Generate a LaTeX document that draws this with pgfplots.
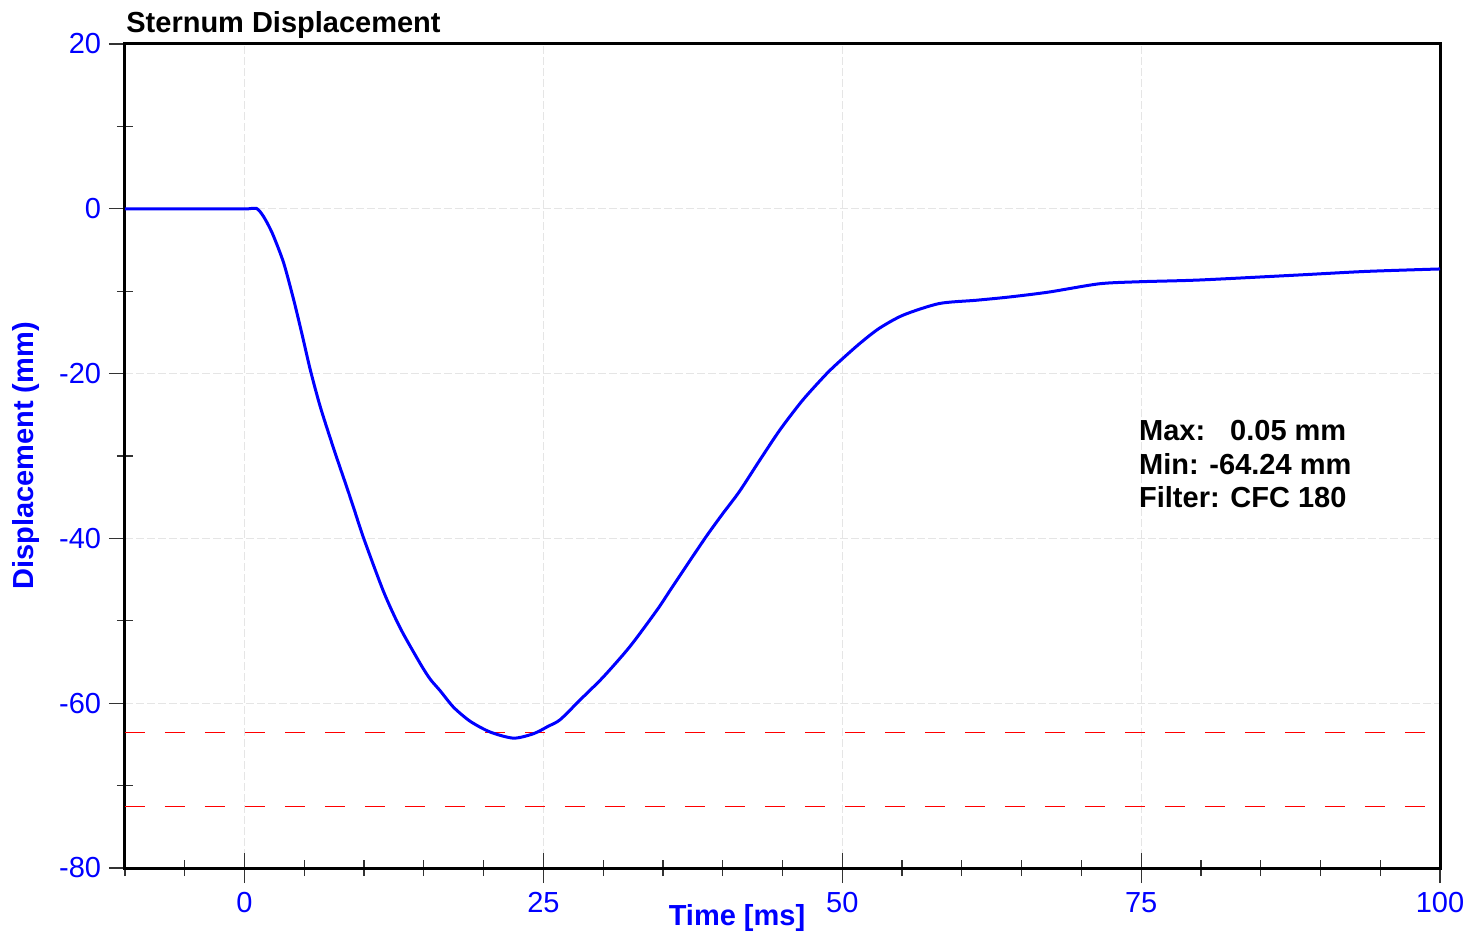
\documentclass[border=0pt]{standalone}
\usepackage{pgfplots}
\pgfplotsset{compat=1.18}
\usepackage{fontspec}
\setmainfont{Liberation Sans}
\definecolor{pblue}{RGB}{0,0,255}
\definecolor{pred}{RGB}{255,0,0}
\begin{document}
\begin{tikzpicture}
\begin{axis}[
  name=ax,
  scale only axis,
  width=657.5pt, height=412pt,
  xmin=-10, xmax=100, ymin=-80, ymax=20,
  axis line style={line width=1.5pt, black},
  xtick={0,25,50,75,100},
  minor xtick={-10,-5,5,10,15,20,30,35,40,45,55,60,65,70,80,85,90,95},
  ytick={-80,-60,-40,-20,0,20},
  minor ytick={-70,-50,-30,-10,10},
  xtick pos=bottom, ytick pos=left,
  xtick align=center, ytick align=outside,
  xtick style={black!80, line width=0.6pt, /pgfplots/major tick length=15pt, /pgfplots/minor tick length=8pt},
  ytick style={black!80, line width=0.6pt, /pgfplots/major tick length=8pt, /pgfplots/minor tick length=8pt},
  minor y tick style={/pgfplots/tick align=center},
  grid=major,
  major grid style={black!10, line width=0.6pt, dash pattern=on 4pt off 1.5pt},
  /pgf/number format/assume math mode=true,
  ticklabel style={font=\fontsize{14.5}{17}\selectfont, text=pblue},
  xticklabel style={anchor=north, inner sep=0pt, yshift=-10pt},
  yticklabel style={anchor=east, inner sep=0pt, xshift=-7.5pt},
  xlabel={\textbf{Time [ms]}},
  ylabel={\textbf{Displacement (mm)}},
  label style={font=\fontsize{14.5}{17}\selectfont, text=pblue},
  xlabel style={at={(0.4654,0)}, anchor=base, yshift=-28.5pt},
  ylabel style={at={(0,0.5)}, anchor=base, yshift=45.5pt},
]
\addplot[pred, line width=0.5pt, dash pattern=on 10pt off 10pt, forget plot] coordinates {(-10,-63.5) (100,-63.5)};
\addplot[pred, line width=0.5pt, dash pattern=on 10pt off 10pt, forget plot] coordinates {(-10,-72.5) (100,-72.5)};
\addplot[pblue, line width=1.5pt, line join=round, smooth, tension=0.45] coordinates {
(-10,0) (-5,0) (0,0) (0.5,0.03) (1.0,0.05) (1.3,-0.35) (1.6,-0.96) (2.0,-2.0)
(2.45,-3.4) (3.28,-6.6) (4.12,-11.1) (4.82,-15.3) (5.51,-19.6) (6.35,-24.1)
(7.5,-29.3) (8.58,-33.9) (9.13,-36.3) (9.97,-40.0) (11.64,-46.5) (13.03,-50.9)
(14.70,-55.2) (15.54,-57.1) (16.37,-58.5) (17.49,-60.5) (18.88,-62.2) (20.55,-63.5)
(22.5,-64.24) (24.17,-63.7) (25.4,-62.8) (26.4,-62.0) (28.07,-59.6) (30.02,-56.8)
(32.25,-53.1) (34.5,-48.7) (35.6,-46.3) (37.3,-42.6) (38.7,-39.6) (40.0,-37.0)
(41.4,-34.3) (43.1,-30.5) (44.8,-26.8) (46.7,-23.2) (48.7,-20.0) (49.9,-18.35)
(51.5,-16.3) (53.1,-14.5) (55.1,-12.9) (58.1,-11.5) (61.2,-11.1) (64.0,-10.7)
(67.3,-10.1) (71.5,-9.1) (74.9,-8.85) (79.9,-8.64) (88.2,-8.03) (93.8,-7.6) (100,-7.3)
};
\node[anchor=base west, inner sep=0pt, font=\fontsize{14.5}{17}\selectfont\bfseries] at (axis cs:74.8,-28.06) {Max:\hspace{12.5pt}0.05 mm};
\node[anchor=base west, inner sep=0pt, font=\fontsize{14.5}{17}\selectfont\bfseries] at (axis cs:74.8,-32.2) {Min: -64.24 mm};
\node[anchor=base west, inner sep=0pt, font=\fontsize{14.5}{17}\selectfont\bfseries] at (axis cs:74.8,-36.2) {Filter: CFC 180};
\end{axis}
\node[anchor=base west, inner sep=0pt, font=\fontsize{14.5}{17}\selectfont\bfseries] at ([shift={(0.5pt,5.5pt)}]ax.north west) {Sternum Displacement};
\pgfresetboundingbox
\path[use as bounding box] ([shift={(-62.5pt,-33.5pt)}]ax.south west) rectangle ([shift={(21.5pt,22pt)}]ax.north east);
\end{tikzpicture}
\end{document}
